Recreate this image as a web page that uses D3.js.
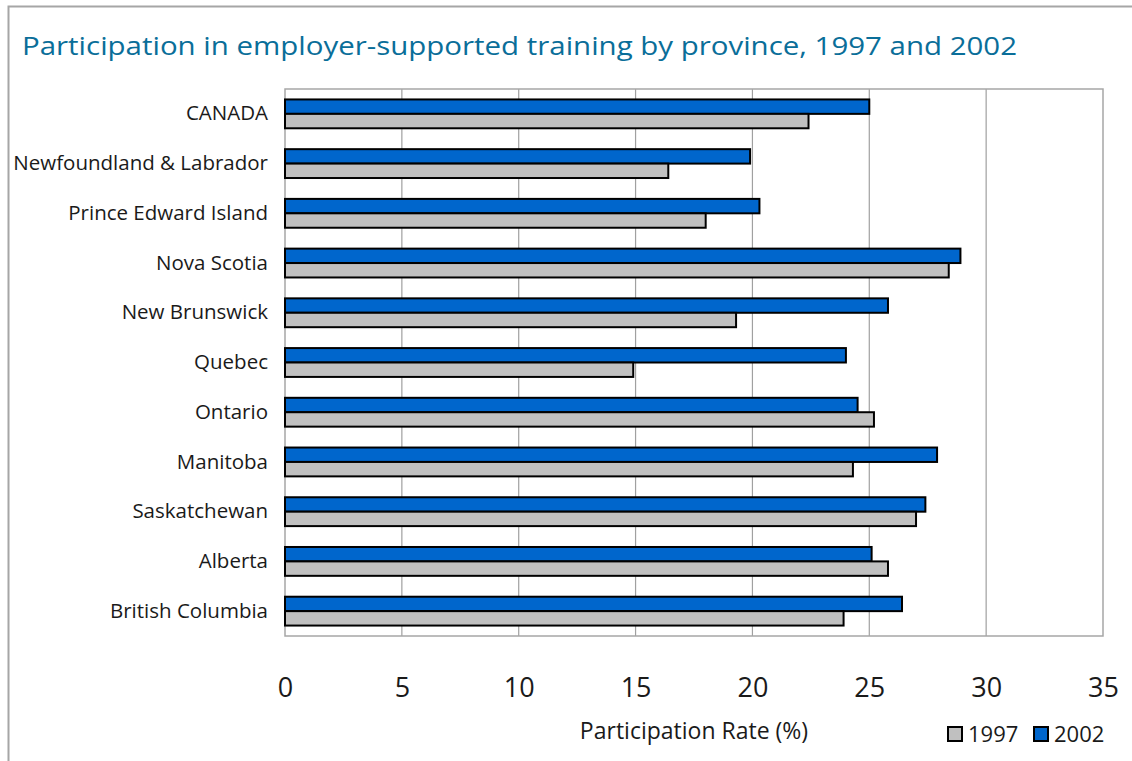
<!DOCTYPE html>
<html><head><meta charset="utf-8">
<script src="https://cdn.jsdelivr.net/npm/d3@7"></script>
<style>body{margin:0;background:#fff;} svg{display:block;}</style>
</head><body>
<svg id="chart" width="1132" height="761"></svg>
<script>
const categories = ["CANADA","Newfoundland & Labrador","Prince Edward Island","Nova Scotia","New Brunswick","Quebec","Ontario ","Manitoba","Saskatchewan","Alberta","British Columbia"];
const series = ["2002","1997"];
const values2002 = [25.0,19.9,20.3,28.9,25.8,24.0,24.5,27.9,27.4,25.1,26.4];
const values1997 = [22.4,16.4,18.0,28.4,19.3,14.9,25.2,24.3,27.0,25.8,23.9];
const xTicks = [0,5,10,15,20,25,30,35];
const legendItems = ["1997","2002"];
const colors = {"1997":"#C0C0C0","2002":"#0066CC"};

const svg = d3.select("#chart");
const font = "'Open Sans', Lato, sans-serif";

// outer frame
svg.append("path").attr("d","M8.5,761 V6.5 H1132").attr("fill","none").attr("stroke","#a6a6a6").attr("stroke-width",2);

// title
const title = svg.append("text").attr("x",22).attr("y",55).attr("font-family",font).attr("font-size",26)
  .attr("fill","#0A6E99").text("Participation in employer-supported training by province, 1997 and 2002");
title.attr("textLength",995).attr("lengthAdjust","spacingAndGlyphs");

const m = {left:285, right:1103, top:89, bottom:636};
const x = d3.scaleLinear().domain([0,35]).range([m.left,m.right]);
const y = d3.scaleBand().domain(categories).range([m.top,m.bottom]).paddingInner(0.42).paddingOuter(0.21);
const ys = d3.scaleBand().domain(series).range([0,y.bandwidth()]);

// gridlines
svg.append("g").selectAll("line").data(xTicks.slice(1,-1)).join("line")
  .attr("x1",d=>x(d)).attr("x2",d=>x(d)).attr("y1",m.top).attr("y2",m.bottom)
  .attr("stroke","#a0a0a0").attr("stroke-width",1.2);
// plot border
svg.append("rect").attr("x",m.left).attr("y",m.top).attr("width",m.right-m.left).attr("height",m.bottom-m.top)
  .attr("fill","none").attr("stroke","#a6a6a6").attr("stroke-width",1.5);

const data = categories.map((c,i)=>({cat:c, "2002":values2002[i], "1997":values1997[i]}));
const g = svg.append("g");
data.forEach(d=>{
  series.forEach(s=>{
    g.append("rect").attr("x",x(0)).attr("y",y(d.cat)+ys(s)).attr("width",x(d[s])-x(0)).attr("height",ys.bandwidth())
      .attr("fill",colors[s]).attr("stroke","#000").attr("stroke-width",2);
  });
});

// x axis
const xAxis = d3.axisBottom(x).tickValues(xTicks).tickSize(0).tickPadding(0);
const ax = svg.append("g").attr("transform",`translate(0,${m.bottom})`).call(xAxis);
ax.select(".domain").remove();
ax.selectAll("text").attr("font-family",font).attr("font-size",27).attr("fill","#1a1a1a").attr("dy",null).attr("y",61);

// y axis labels
const yAxis = d3.axisLeft(y).tickSize(0).tickPadding(17);
const ay = svg.append("g").attr("transform",`translate(${m.left},0)`).call(yAxis);
ay.select(".domain").remove();
ay.selectAll("text").attr("font-family",font).attr("font-size",20.5).attr("fill","#1a1a1a");

// axis title
svg.append("text").attr("x",694).attr("y",739).attr("text-anchor","middle").attr("font-family",font)
  .attr("font-size",23).attr("fill","#1a1a1a").text("Participation Rate (%)");

// legend
const legX = [948, 1034];
legendItems.forEach((s,i)=>{
  svg.append("rect").attr("x",legX[i]).attr("y",727).attr("width",14).attr("height",14)
    .attr("fill",colors[s]).attr("stroke","#000").attr("stroke-width",2);
  svg.append("text").attr("x",legX[i]+20).attr("y",742).attr("font-family",font).attr("font-size",22)
    .attr("fill","#1a1a1a").text(s);
});
</script>
</body></html>
